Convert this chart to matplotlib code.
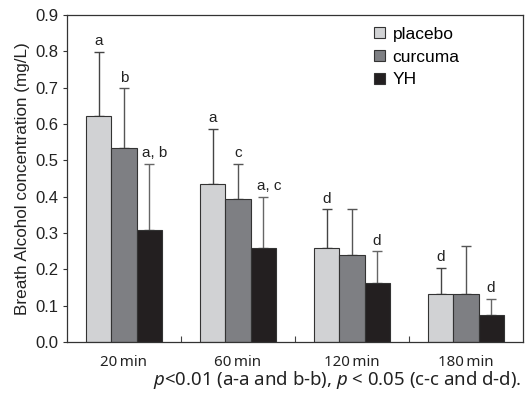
import matplotlib
matplotlib.use("Agg")
import matplotlib.pyplot as plt
import numpy as np

categories = ["20\u2009min", "60\u2009min", "120\u2009min", "180\u2009min"]
series = ["placebo", "curcuma", "YH"]
placebo = [0.623, 0.434, 0.258, 0.133]
curcuma = [0.533, 0.393, 0.240, 0.133]
yh = [0.308, 0.258, 0.162, 0.075]
placebo_err = [0.175, 0.153, 0.107, 0.072]
curcuma_err = [0.165, 0.097, 0.127, 0.130]
yh_err = [0.183, 0.142, 0.088, 0.044]
placebo_lbl = ["a", "a", "d", "d"]
curcuma_lbl = ["b", "c", "", ""]
yh_lbl = ["a, b", "a, c", "d", "d"]
yticks = [0.0, 0.1, 0.2, 0.3, 0.4, 0.5, 0.6, 0.7, 0.8, 0.9]

colors = ["#d1d2d4", "#7e7f83", "#231f20"]
errcolors = ["#444444", "#555555", "#666666"]

plt.rcParams["font.family"] = ["Liberation Sans", "DejaVu Sans"]
plt.rcParams["mathtext.fontset"] = "custom"
plt.rcParams["mathtext.it"] = "Noto Sans:italic"
plt.rcParams["mathtext.rm"] = "Noto Sans"
fig = plt.figure(figsize=(5.26, 4.01), dpi=100)
ax = fig.add_axes([67/526, 59/401, 456/526, 327/401])

x = np.arange(len(categories))
w = 0.22
vals = [placebo, curcuma, yh]
errs = [placebo_err, curcuma_err, yh_err]
lbls = [placebo_lbl, curcuma_lbl, yh_lbl]
for i in range(3):
    pos = x + (i - 1) * w
    ax.bar(pos, vals[i], w, color=colors[i], edgecolor="#333333", linewidth=0.8,
           label=series[i], zorder=2)
    ax.errorbar(pos, vals[i], yerr=[np.zeros(4), errs[i]], fmt="none",
                ecolor=errcolors[i], elinewidth=1.0, capsize=3.5, capthick=1.0, zorder=1)
    for j in range(4):
        t = lbls[i][j]
        if t:
            dx = 0.05 if "," in t else 0.0
            ax.text(pos[j] + dx, vals[i][j] + errs[i][j] + 0.01, t, ha="center",
                    va="bottom", fontsize=11, color="#222222")

ax.set_xlim(-0.5, 3.5)
ax.set_ylim(0, 0.9)
ax.set_yticks(yticks)
ax.set_yticklabels([f"{v:.1f}" for v in yticks], fontsize=12, color="#222222")
ax.tick_params(axis="y", direction="out", length=3, width=0.8, color="#333333", pad=3)
ax.set_xticks(x)
ax.set_xticklabels(categories, fontfamily=["Noto Sans", "DejaVu Sans"], fontsize=10.8, color="#222222")
ax.tick_params(axis="x", length=0, pad=9)
ax.set_xticks([0.5, 1.5, 2.5], minor=True)
ax.tick_params(axis="x", which="minor", direction="in", length=4, width=0.8, color="#444444")
for s in ax.spines.values():
    s.set_linewidth(0.9)
    s.set_color("#333333")
ax.set_ylabel("Breath Alcohol concentration (mg/L)", fontsize=12.3, color="#222222", labelpad=4)

ax.legend(loc="upper left", bbox_to_anchor=(0.64, 1.012), frameon=False, fontsize=12.5,
          handlelength=0.6, handleheight=0.6, handletextpad=0.45, labelspacing=0.45)

fig.text(0.992, 0.052, r"$\it{p}$<0.01 (a-a and b-b), $\it{p}$ < 0.05 (c-c and d-d).",
         ha="right", va="center", fontsize=13.4, fontfamily=["Noto Sans", "DejaVu Sans"],
         color="#222222")

fig.savefig("out.png", dpi=100)
